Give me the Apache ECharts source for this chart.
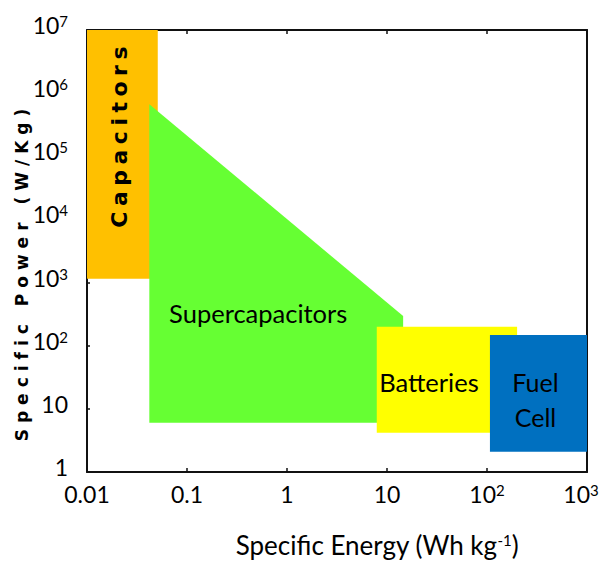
<!DOCTYPE html>
<html><head><meta charset="utf-8">
<script src="https://cdn.jsdelivr.net/npm/echarts@6/dist/echarts.min.js"></script>
<style>html,body{margin:0;padding:0;background:#fff}#c{width:600px;height:561px}</style>
</head><body><div id="c"></div>
<script>
// ---- data ----
const energyTicks = [0.01, 0.1, 1, 10, 100, 1000];
const energyTickLabels = ['0.01', '0.1', '1', '10', '10{s|2}', '10{s|3}'];
const powerTicks = [1, 10, 100, 1e3, 1e4, 1e5, 1e6, 1e7];
const powerTickLabels = ['1', '10', '10{s|2}', '10{s|3}', '10{s|4}', '10{s|5}', '10{s|6}', '10{s|7}'];

const capacitorsEnergy = [0.01, 0.051, 0.051, 0.01];
const capacitorsPower  = [1e7, 1e7, 1150, 1150];
const supercapEnergy   = [0.042, 14.5, 14.5, 0.042];
const supercapPower    = [6.7e5, 295, 6, 6];
const batteriesEnergy  = [7.9, 200, 200, 7.9];
const batteriesPower   = [199, 199, 4.2, 4.2];
const fuelCellEnergy   = [107, 1000, 1000, 107];
const fuelCellPower    = [148, 148, 2.1, 2.1];

const xTitle = 'Specific Energy (Wh kg{s|-1})';
const yTitle = 'Specific Power (W/Kg)';

// ---- chart ----
const LABEL_FONT = 'Lato';
function tickLabel(ticks, labels, lastPad) {
  return function (v) {
    const e = Math.round(Math.log10(v));
    for (let i = 0; i < ticks.length; i++) {
      if (Math.round(Math.log10(ticks[i])) === e) {
        // keep the last label inside the canvas, as in the reference
        return (lastPad && i === ticks.length - 1) ? labels[i] + '{q| }' : labels[i];
      }
    }
    return '';
  };
}

function region(name, E, P, color, txt) {
  return {
    type: 'custom', name: name, silent: true, animation: false,
    coordinateSystem: 'cartesian2d', xAxisIndex: 0, yAxisIndex: 0,
    data: [[E[0], P[0]]],
    clip: true,
    renderItem: function (params, api) {
      const pts = E.map(function (e, i) { return api.coord([e, P[i]]); });
      let x0 = Infinity, x1 = -Infinity, y0 = Infinity, y1 = -Infinity;
      pts.forEach(function (p) { x0 = Math.min(x0, p[0]); x1 = Math.max(x1, p[0]); y0 = Math.min(y0, p[1]); y1 = Math.max(y1, p[1]); });
      return {
        type: 'group',
        children: [
          { type: 'polygon', shape: { points: pts }, style: { fill: color } },
          { type: 'text', x: (x0 + x1) / 2 + txt.dx, y: (y0 + y1) / 2 + txt.dy,
            rotation: txt.rotation || 0,
            style: { text: name, fill: '#000', fontSize: txt.size, fontWeight: txt.weight || 'normal',
                     fontFamily: txt.family || LABEL_FONT, align: 'center', verticalAlign: 'middle',
                     lineHeight: txt.lineHeight || txt.size } }
        ]
      };
    }
  };
}

const chart = echarts.init(document.getElementById('c'), null, { renderer: 'svg' });

const axisLineStyle = { color: '#111', width: 2 };
const option = {
  animation: false,
  backgroundColor: '#fff',
  grid: { left: 87, right: 13, top: 30, bottom: 89, containLabel: false, outerBoundsMode: 'none' },
  xAxis: [
    { type: 'log', logBase: 10, min: 0.01, max: 1000, position: 'bottom',
      axisLine: { show: true, onZero: false, lineStyle: axisLineStyle },
      axisTick: { show: true, inside: true, length: 4, lineStyle: { color: '#111', width: 1.5 } },
      minorTick: { show: false }, splitLine: { show: false },
      axisLabel: { show: true, margin: 10, color: '#000', fontSize: 23, fontFamily: LABEL_FONT,
        formatter: tickLabel(energyTicks, energyTickLabels, true),
        rich: { s: { fontSize: 15, fontFamily: LABEL_FONT, color: '#000', verticalAlign: 'top' },
                q: { width: 12, fontSize: 15 } } } },
    { type: 'log', logBase: 10, min: 0.01, max: 1000, position: 'top',
      axisLine: { show: true, onZero: false, lineStyle: axisLineStyle },
      axisTick: { show: true, inside: true, length: 4, lineStyle: { color: '#111', width: 1.5 } },
      axisLabel: { show: false }, splitLine: { show: false } }
  ],
  yAxis: [
    { type: 'log', logBase: 10, min: 1, max: 1e7, position: 'left',
      axisLine: { show: true, onZero: false, lineStyle: axisLineStyle },
      axisTick: { show: true, inside: true, length: 3, lineStyle: { color: '#111', width: 1.5 } },
      minorTick: { show: false }, splitLine: { show: false },
      axisLabel: { show: true, margin: 19, color: '#000', fontSize: 23, fontFamily: LABEL_FONT,
        padding: [0, 0, 10, 0],
        formatter: tickLabel(powerTicks, powerTickLabels, false),
        rich: { s: { fontSize: 15, fontFamily: LABEL_FONT, color: '#000', verticalAlign: 'top' } } } },
    { type: 'log', logBase: 10, min: 1, max: 1e7, position: 'right',
      axisLine: { show: true, onZero: false, lineStyle: axisLineStyle },
      axisTick: { show: false }, axisLabel: { show: false }, splitLine: { show: false } }
  ],
  series: [
    region('Capacitors', capacitorsEnergy, capacitorsPower, '#FFC000',
      { dx: -3, dy: -20, size: 22, weight: 'bold', family: 'DejaVu Sans', rotation: Math.PI / 2 }),
    region('Supercapacitors', supercapEnergy, supercapPower, '#66FF33', { dx: -18, dy: 50, size: 25.5 }),
    region('Batteries', batteriesEnergy, batteriesPower, '#FFFF00', { dx: -18, dy: 2, size: 25.5 }),
    region('Fuel\nCell', fuelCellEnergy, fuelCellPower, '#0070C0', { dx: -3, dy: 6, size: 25, lineHeight: 35 })
  ],
  graphic: [
    { type: 'text', x: 22, y: 272, rotation: Math.PI / 2, silent: true,
      style: { text: yTitle, fill: '#000', fontSize: 17, fontWeight: 'bold', fontFamily: 'DejaVu Sans',
               align: 'center', verticalAlign: 'middle' } },
    { type: 'text', x: 377, y: 545, silent: true,
      style: { text: xTitle, fill: '#000', fontSize: 26, fontFamily: LABEL_FONT,
               align: 'center', verticalAlign: 'middle',
               rich: { s: { fontSize: 15, fontFamily: LABEL_FONT, fill: '#000', verticalAlign: 'top' } } } }
  ]
};
chart.setOption(option);

const spacing = { 'Capacitors': '5.5px', 'Specific Power (W/Kg)': '6px' };
function applySpacing() {
  document.querySelectorAll('#c svg text').forEach(function (t) {
    const s = spacing[t.textContent];
    if (s) { t.setAttribute('letter-spacing', s); t.style.letterSpacing = s; }
  });
}
applySpacing();
chart.on('finished', applySpacing);
setTimeout(applySpacing, 50);
setTimeout(applySpacing, 300);
</script>
</body></html>
